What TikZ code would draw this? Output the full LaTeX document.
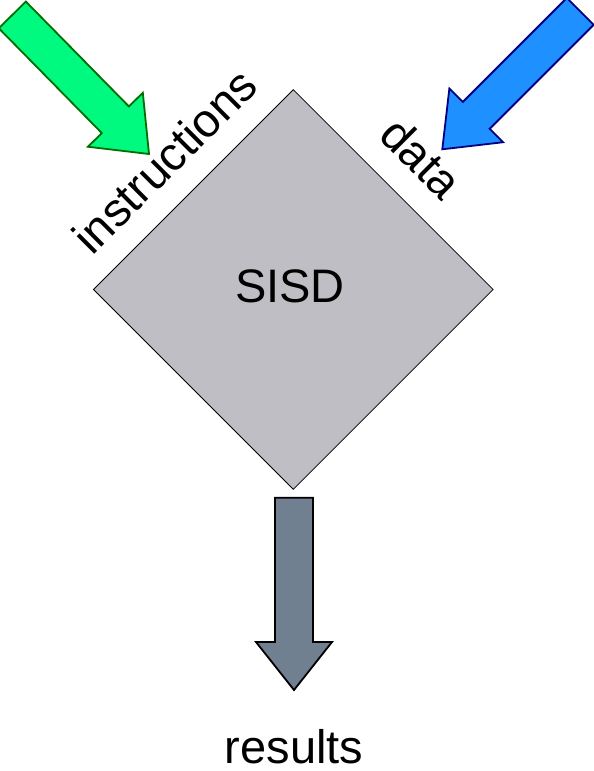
\documentclass[tikz,border=0pt]{standalone}
\usepackage{fontspec}
\setmainfont{Liberation Sans}
\usetikzlibrary{shapes.geometric}

\definecolor{instrgreen}{RGB}{0,250,128}
\definecolor{instredge}{RGB}{0,110,0}
\definecolor{datablue}{RGB}{30,144,255}
\definecolor{dataedge}{RGB}{0,0,128}
\definecolor{resgray}{RGB}{112,128,144}
\definecolor{boxgray}{RGB}{190,190,196}

\tikzset{
  lbl/.style={font=\fontsize{47}{56}\selectfont, inner sep=0pt, anchor=base},
  proc/.style={diamond, draw=black, line width=0.8, fill=boxgray,
    minimum width=400, minimum height=400, inner sep=0pt, aspect=1},
  % block arrow with its tip at the origin, pointing along +x:
  % total length, head length, head width, shaft width
  pics/blockarrow/.style n args={4}{
    code={\path[pic actions] (0,0) -- (-#2,#3/2) -- (-#2,#4/2) -- (-#1,#4/2)
      -- (-#1,-#4/2) -- (-#2,-#4/2) -- (-#2,-#3/2) -- cycle;}},
  flow/.style={line width=1.8, line join=miter},
}

\begin{document}
\begin{tikzpicture}[x=1pt, y=-1pt]
  \useasboundingbox (0,0) rectangle (594,771);
  \clip (0,0) rectangle (594,771);

  % processing element
  \node[proc] (sisd) at (293.3,289.5) {};
  \node[lbl] (sisdtext) at (290,302) {SISD};

  % instruction stream
  \pic[flow, draw=instredge, fill=instrgreen, rotate=-45.5] (instr) at (149,154)
    {blockarrow={195}{48}{77}{38}};
  \node[lbl, rotate=45] (instrtext) at (176.3,172.6) {instructions};

  % data stream
  \pic[flow, draw=dataedge, fill=datablue, rotate=-135] (data) at (442.3,149.3)
    {blockarrow={195}{48}{76}{38}};
  \node[lbl, rotate=-45] (datatext) at (409.6,169.5) {data};

  % result stream
  \pic[flow, draw=black, fill=resgray, rotate=-90] (res) at (294,690)
    {blockarrow={192.3}{48}{76}{38}};
  \node[lbl] (restext) at (294,763.3) {results};
\end{tikzpicture}
\end{document}
